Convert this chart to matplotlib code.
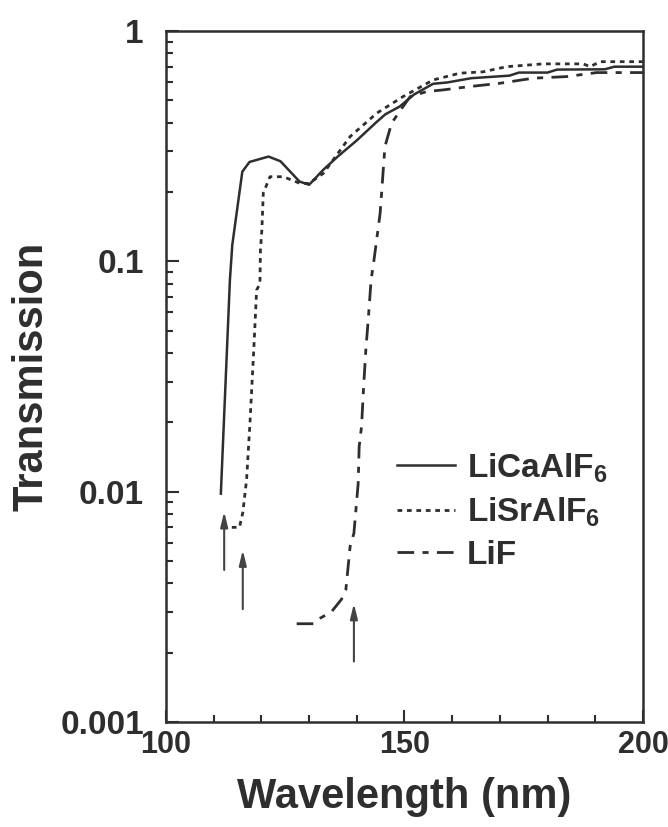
import matplotlib
matplotlib.use("Agg")
import matplotlib.pyplot as plt
from matplotlib.ticker import FixedLocator, NullFormatter, LogLocator
import numpy as np

# Transmission spectra (wavelength in nm, transmission fraction)
licaalf6_wl = [111.5, 113.4, 113.9, 116.0, 117.5, 121.5, 124.0, 128.0, 130.0, 133.0,
               136.0, 140.0, 144.0, 146.0, 149.0, 152.0, 156.0, 159.0, 164.0, 172.0,
               174.0, 180.0, 182.0, 192.0, 194.0, 200.0]
licaalf6_t = [0.0098, 0.083, 0.118, 0.245, 0.270, 0.285, 0.272, 0.222, 0.215, 0.250,
              0.285, 0.335, 0.400, 0.435, 0.470, 0.530, 0.590, 0.598, 0.624, 0.640,
              0.660, 0.660, 0.680, 0.682, 0.700, 0.700]

lisralf6_wl = [113.8, 115.4, 116.1, 116.9, 117.6, 118.4, 119.0, 119.7, 119.8, 120.1,
               120.4, 121.8, 124.6, 128.1, 130.0, 133.0, 138.6, 144.2, 149.7, 156.0,
               161.6, 166.5, 171.4, 179.1, 187.5, 188.9, 191.0, 200.0]
lisralf6_t = [0.0070, 0.0070, 0.0081, 0.0113, 0.0198, 0.0413, 0.075, 0.080, 0.112, 0.137,
              0.198, 0.233, 0.233, 0.218, 0.218, 0.241, 0.348, 0.440, 0.519, 0.613,
              0.656, 0.665, 0.700, 0.720, 0.720, 0.700, 0.736, 0.736]

lif_wl = [127.4, 130.9, 132.3, 134.7, 136.8, 137.7, 138.6, 139.4, 140.3, 140.5,
          141.0, 141.4, 141.9, 142.4, 143.0, 143.6, 144.9, 145.9, 147.3, 149.7,
          151.2, 154.7, 158.1, 163.7, 170.0, 177.0, 184.0, 190.3, 200.0]
lif_t = [0.00267, 0.00267, 0.00282, 0.00301, 0.00341, 0.00374, 0.00577, 0.0066, 0.0109, 0.0157,
         0.0192, 0.0277, 0.0413, 0.0557, 0.083, 0.101, 0.162, 0.315, 0.398, 0.470,
         0.519, 0.546, 0.555, 0.574, 0.593, 0.624, 0.634, 0.660, 0.660]

# Absorption-edge markers: wavelength, arrow tail and arrow head transmission
edge_wl = [112.2, 116.1, 139.4]
edge_tail = [0.00457, 0.00309, 0.00183]
edge_head = [0.00819, 0.00558, 0.00327]

labels = [r"LiCaAlF$_6$", r"LiSrAlF$_6$", "LiF"]
x_ticks = [100, 150, 200]
y_ticks = [0.001, 0.01, 0.1, 1]
y_ticklabels = ["0.001", "0.01", "0.1", "1"]

ink = "#2e2e2e"
plt.rcParams["font.family"] = ["Liberation Sans", "DejaVu Sans"]
plt.rcParams["font.weight"] = "bold"
plt.rcParams["mathtext.fontset"] = "custom"
plt.rcParams["mathtext.rm"] = "Liberation Sans:bold"
plt.rcParams["mathtext.bf"] = "Liberation Sans:bold"
plt.rcParams["mathtext.it"] = "Liberation Sans:bold"
plt.rcParams["mathtext.default"] = "bf"

fig = plt.figure(figsize=(6.68, 8.27), dpi=100)
ax = fig.add_axes([0.2485, 0.127, 0.714, 0.8355])

ax.plot(licaalf6_wl, licaalf6_t, color=ink, lw=1.8, ls="-", label=labels[0])
ax.plot(lisralf6_wl, lisralf6_t, color=ink, lw=2.0, ls=(0, (1.7, 1.7)), label=labels[1])
ax.plot(lif_wl, lif_t, color=ink, lw=2.0, ls=(0, (6, 3, 2.2, 3)), label=labels[2])

for w, t0, t1 in zip(edge_wl, edge_tail, edge_head):
    ax.annotate("", xy=(w, t1), xytext=(w, t0),
                arrowprops=dict(arrowstyle="-|>,head_length=0.9,head_width=0.22",
                                color="#444444", lw=1.5, shrinkA=0, shrinkB=0))

ax.set_yscale("log")
ax.set_xlim(100, 200)
ax.set_ylim(0.001, 1)

ax.xaxis.set_major_locator(FixedLocator(x_ticks))
ax.xaxis.set_minor_locator(FixedLocator(np.arange(110, 200, 10)))
ax.set_xticklabels([str(v) for v in x_ticks])
ax.yaxis.set_major_locator(FixedLocator(y_ticks))
ax.yaxis.set_minor_locator(LogLocator(base=10, subs=np.arange(2, 10)))
ax.yaxis.set_minor_formatter(NullFormatter())
ax.set_yticklabels(y_ticklabels)

ax.tick_params(which="both", direction="in", top=False, right=False, colors=ink)
ax.tick_params(which="major", length=9, width=1.5)
ax.tick_params(which="minor", length=5, width=1.5)
ax.tick_params(axis="y", which="major", pad=16, labelsize=24)
ax.tick_params(axis="x", which="major", pad=6, labelsize=22)
for s in ax.spines.values():
    s.set_linewidth(1.8)
    s.set_color(ink)

ax.set_xlabel("Wavelength (nm)", fontsize=30, fontweight="bold", color=ink, labelpad=12)
ax.set_ylabel("Transmission", fontsize=30, fontweight="bold", color=ink, labelpad=6)

leg = ax.legend(loc="upper left", bbox_to_anchor=(0.484, 0.392), frameon=False,
                fontsize=24, handlelength=1.74, handletextpad=0.36, labelspacing=0.33,
                borderpad=0, borderaxespad=0)
for t in leg.get_texts():
    t.set_color(ink)

fig.savefig("out.png", dpi=100)
